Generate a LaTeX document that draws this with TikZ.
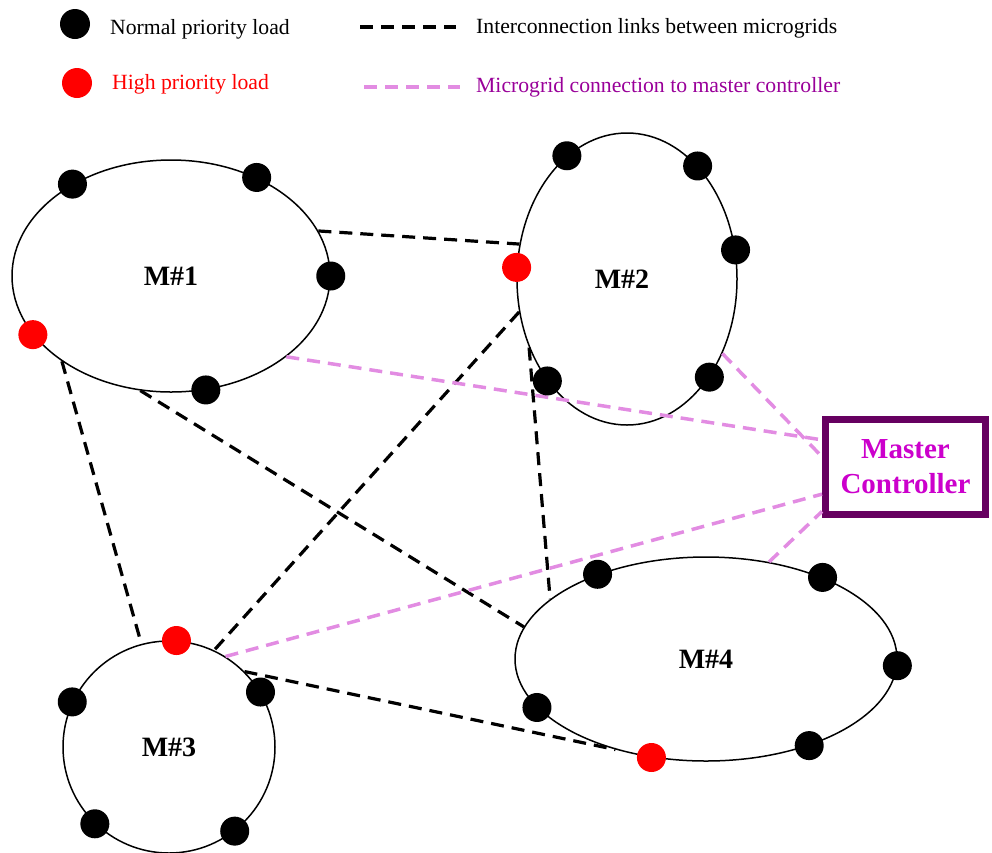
\documentclass[tikz,border=0pt]{standalone}
\usepackage{fontspec}
\setmainfont{Liberation Serif}
\usetikzlibrary{shapes.geometric}
\definecolor{linkpink}{RGB}{226,140,226}
\definecolor{legendpurple}{RGB}{153,0,153}
\definecolor{ctrlborder}{RGB}{102,0,96}
\definecolor{ctrltext}{RGB}{204,0,204}
\begin{document}
\begin{tikzpicture}[x=1pt,y=-1pt,
  grid/.style={draw,ellipse,line width=1.5pt,inner sep=0pt,
    font=\fontsize{28}{30}\selectfont\bfseries},
  load/.style={circle,fill=black,minimum size=29pt,inner sep=0pt},
  hiload/.style={load,fill=red},
  link/.style={line width=3.2pt,dash pattern=on 13pt off 8pt},
  ctrllink/.style={line width=3.5pt,linkpink,dash pattern=on 13pt off 8pt},
  legendtext/.style={anchor=base west,inner sep=0pt,
    font=\fontsize{21.7}{24}\selectfont}]
\useasboundingbox (0,0) rectangle (992,852);

% legend
\node[load,minimum size=30pt] (keynormal) at (75,24) {};
\node[legendtext] (keynormaltext) at (110,34) {Normal priority load};
\node[hiload,minimum size=30pt] (keyhigh) at (77,83) {};
\node[legendtext,text=red] (keyhightext) at (112,89) {High priority load};
\coordinate (keylinka) at (360,27);
\coordinate (keylinkb) at (456,27);
\draw[link] (keylinka) -- (keylinkb);
\node[legendtext] (keylinktext) at (476,33) {Interconnection links between microgrids};
\coordinate (keyctrla) at (364,87);
\coordinate (keyctrlb) at (460,87);
\draw[ctrllink] (keyctrla) -- (keyctrlb);
\node[legendtext,text=legendpurple] (keyctrltext) at (476,92) {Microgrid connection to master controller};

% microgrids
\node[grid,minimum width=318pt,minimum height=232pt] (m1) at (171,276) {M\#1};
\node[grid,minimum width=220pt,minimum height=292pt] (m2) at (627,279) {\hspace*{-10pt}M\#2};
\node[grid,minimum width=212pt,minimum height=212pt] (m3) at (169,747) {\raisebox{-10pt}{M\#3}};
\node[grid,minimum width=382pt,minimum height=204pt] (m4) at (706,659) {M\#4};

% master controller
\node[draw=ctrlborder,line width=7pt,minimum width=160pt,minimum height=95pt,
  align=center,text=ctrltext,font=\fontsize{29}{35}\selectfont\bfseries]
  (mc) at (905.5,467) {Master\\Controller};

% interconnection links
\draw[link] (m1.17) -- (m2.162);
\draw[link] (m1.-142) -- (m3.105);
\draw[link] (m1.-105) -- (m4.170);
\draw[link] (m2.-163) -- (m3.65);
\draw[link] (m2.-145) -- (m4.159);
\draw[link] (m3.45) -- (m4.-135);

% links to the master controller
\draw[ctrllink] (m1.-35) -- (mc.162);
\draw[ctrllink] (m2.-38) -- (mc.173);
\draw[ctrllink] (m3.58) -- (mc.-162);
\draw[ctrllink] (m4.57) -- (mc.-152);

% loads on M#1
\node[load] (m1a) at (m1.137) {};
\node[load] (m1b) at (m1.49) {};
\node[load] (m1c) at (m1.0) {};
\node[load] (m1d) at (m1.-73) {};
\node[hiload] (m1e) at (m1.-157) {};
% loads on M#2
\node[load] (m2a) at (m2.116) {};
\node[load] (m2b) at (m2.58) {};
\node[load] (m2c) at (m2.15) {};
\node[hiload] (m2d) at (m2.174) {};
\node[load] (m2e) at (m2.-128) {};
\node[load] (m2f) at (m2.-50) {};
% loads on M#3
\node[hiload] (m3a) at (m3.86) {};
\node[load] (m3b) at (m3.155) {};
\node[load] (m3c) at (m3.31) {};
\node[load] (m3d) at (m3.-134) {};
\node[load] (m3e) at (m3.-52) {};
% loads on M#4
\node[load] (m4a) at (m4.142) {};
\node[load] (m4b) at (m4.35) {};
\node[load] (m4c) at (m4.-2) {};
\node[load] (m4d) at (m4.-164) {};
\node[load] (m4e) at (m4.-40) {};
\node[hiload] (m4f) at (m4.-119) {};
\end{tikzpicture}
\end{document}
